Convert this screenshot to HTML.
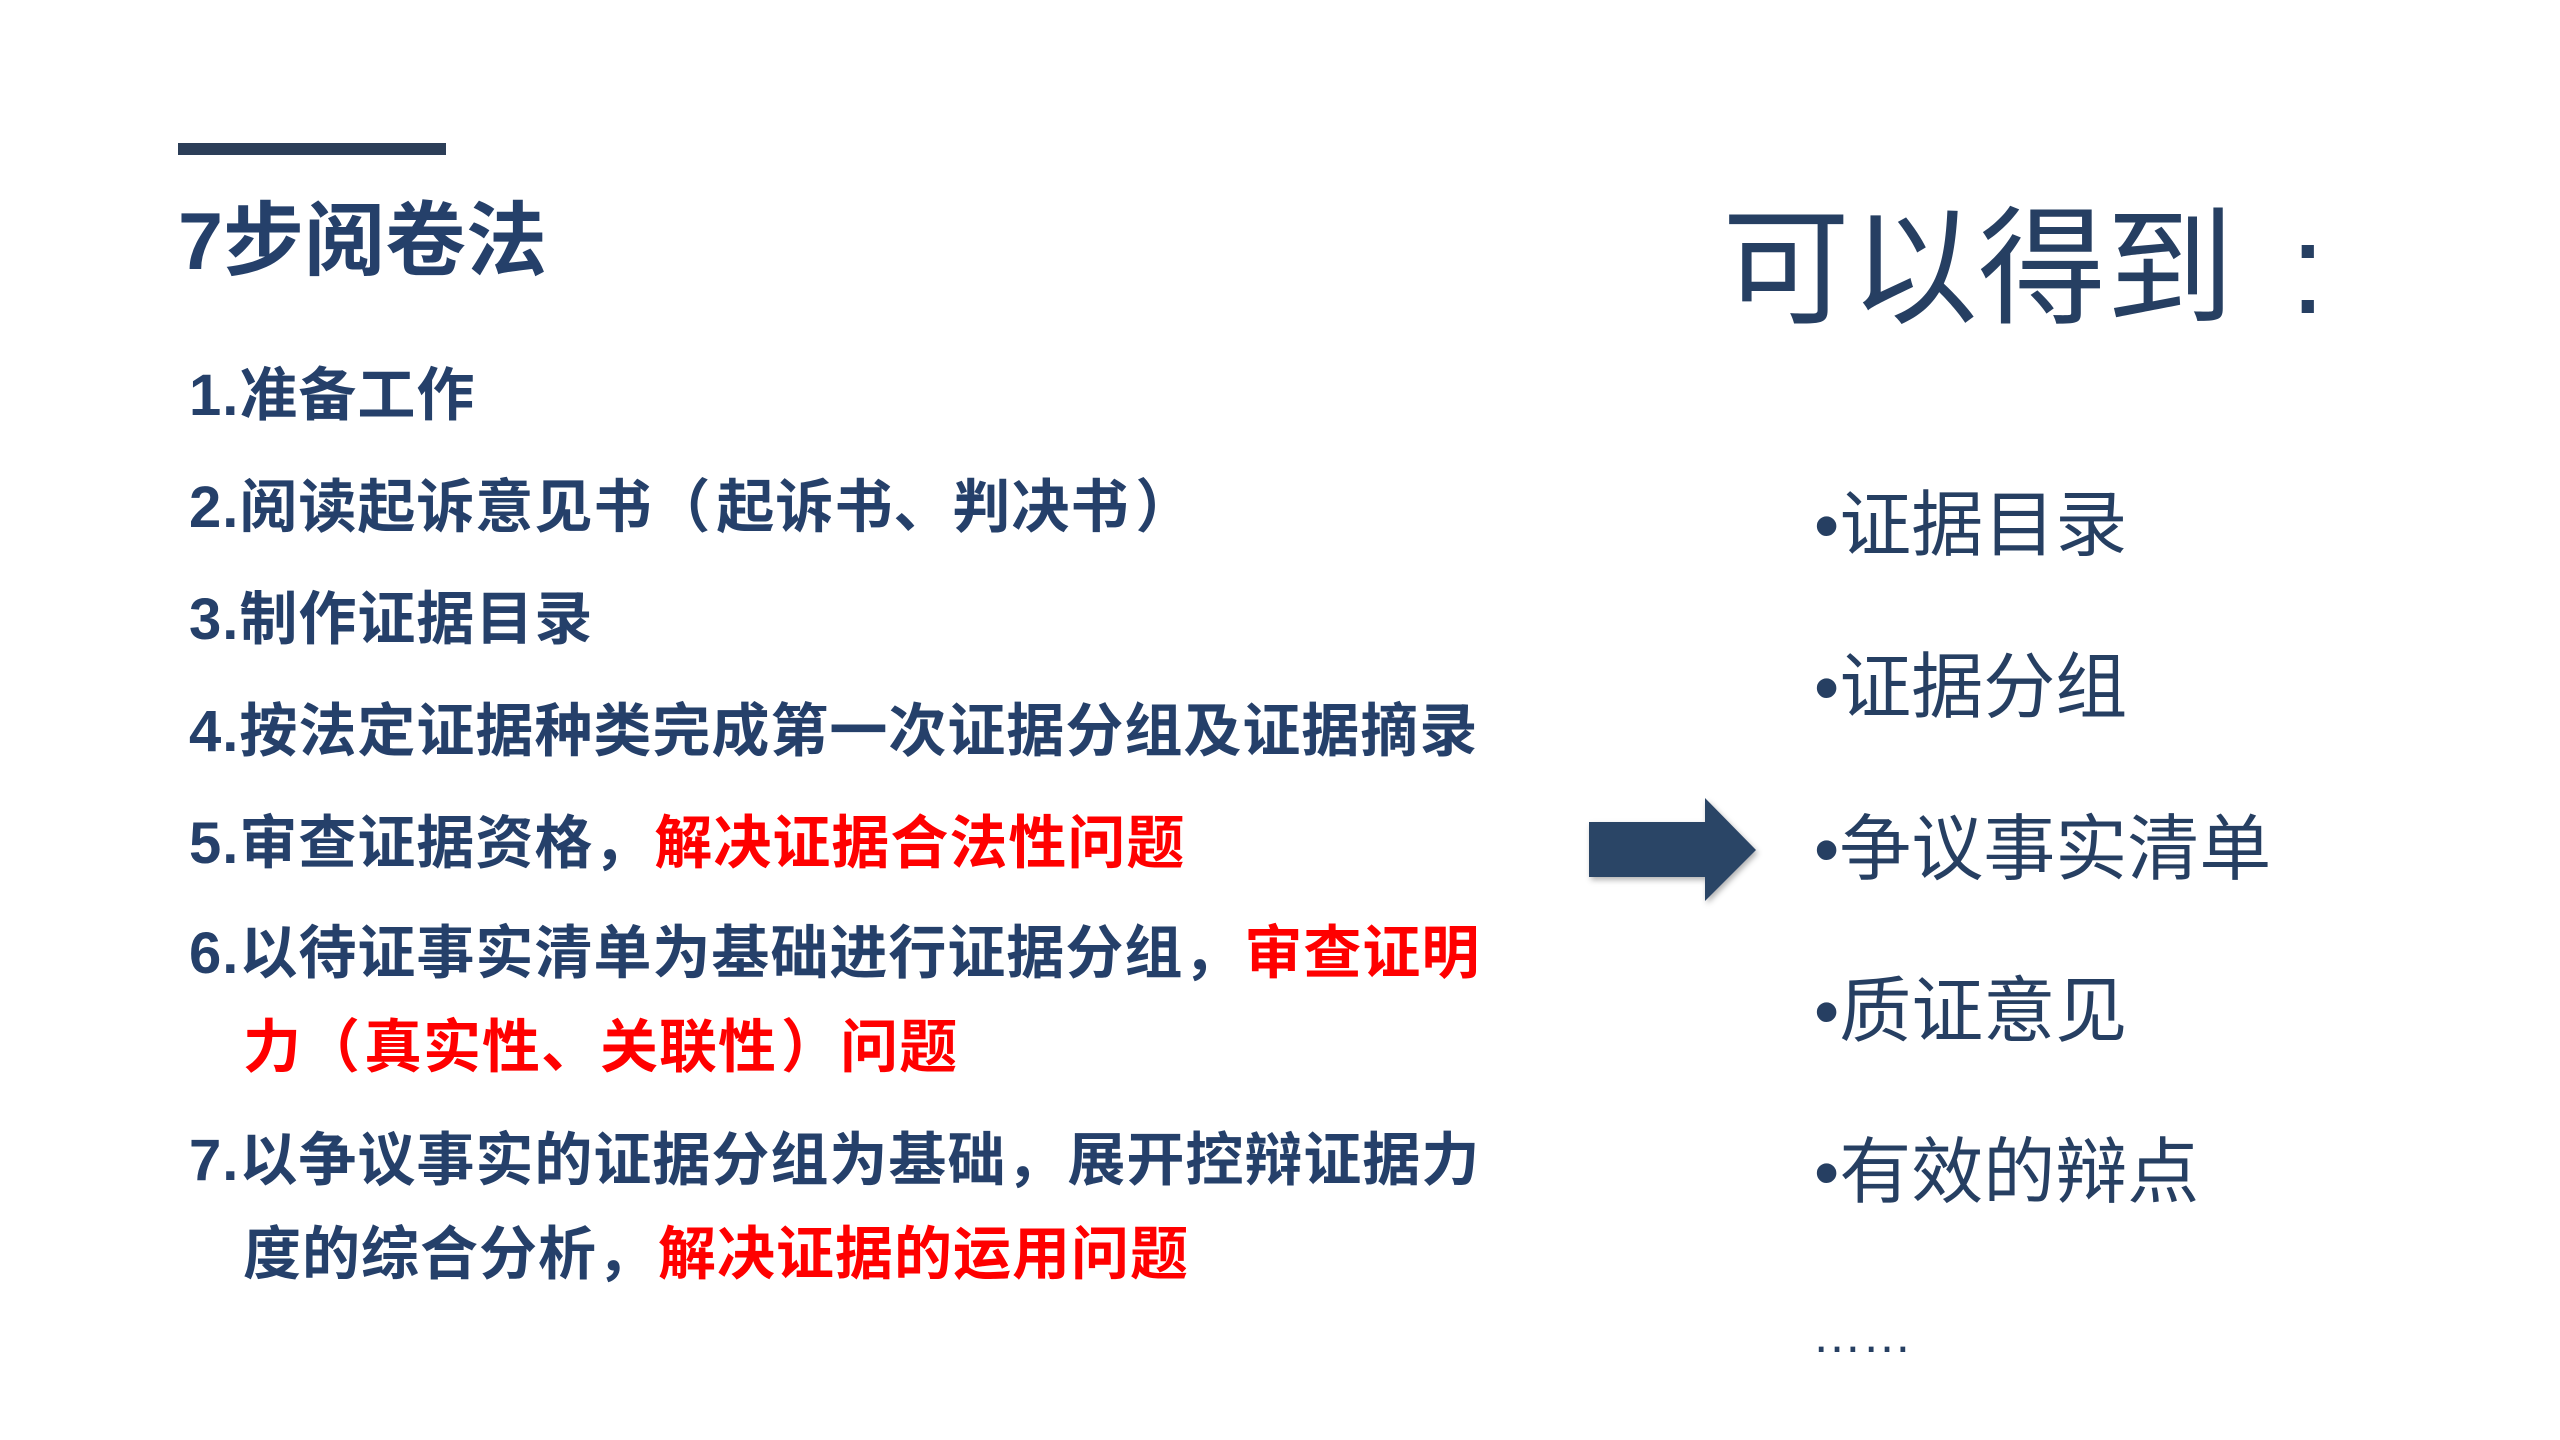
<!DOCTYPE html>
<html><head><meta charset="utf-8"><style>
body{margin:0;width:2560px;height:1440px;background:#fff;position:relative;overflow:hidden;font-family:"Liberation Sans","Noto Sans CJK SC",sans-serif;color:#25406a}
.a{position:absolute;white-space:nowrap}
.it{font-size:58px;font-weight:bold;line-height:58px;left:189px;letter-spacing:1px}
.r{color:#f00}
.rt{font-size:72px;line-height:72px;left:1814px;color:#263f62}
</style></head><body>
<div class="a" style="left:178px;top:143px;width:268px;height:12px;background:#2c3e58"></div>
<div class="a" style="left:178px;top:202px;font-size:81px;line-height:80px;font-weight:bold;letter-spacing:0px">7步阅卷法</div>
<div class="a it" style="top:367px">1.准备工作</div>
<div class="a it" style="top:479px">2.阅读起诉意见书<span style="letter-spacing:6px">（</span>起诉书、判决书<span style="margin-left:6px">）</span></div>
<div class="a it" style="top:591px">3.制作证据目录</div>
<div class="a it" style="top:703px">4.按法定证据种类完成第一次证据分组及证据摘录</div>
<div class="a it" style="top:815px">5.审查证据资格<span style="letter-spacing:3px">，</span><span class="r">解决证据合法性问题</span></div>
<div class="a it" style="top:925px">6.以待证事实清单为基础进行证据分组<span style="letter-spacing:3px">，</span><span class="r">审查证明</span></div>
<div class="a it r" style="top:1019px;left:243px">力<span style="letter-spacing:4px">（</span>真实性、关联性<span style="margin-left:4px">）</span>问题</div>
<div class="a it" style="top:1132px">7.以争议事实的证据分组为基础<span style="letter-spacing:3px">，</span>展开控辩证据力</div>
<div class="a it" style="top:1226px;left:243px">度的综合分析<span style="letter-spacing:3px">，</span><span class="r">解决证据的运用问题</span></div>
<div class="a" style="left:1722px;top:204px;font-size:128px;line-height:132px;color:#263f62">可以得到</div>
<div class="a" style="left:2290px;top:204px;font-size:128px;line-height:132px;color:#263f62">:</div>
<div class="a rt" style="top:490px">•证据目录</div>
<div class="a rt" style="top:652px">•证据分组</div>
<div class="a rt" style="top:814px">•争议事实清单</div>
<div class="a rt" style="top:976px">•质证意见</div>
<div class="a rt" style="top:1137px">•有效的辩点</div>
<div class="a" style="left:1812px;top:1310px;font-size:50px;line-height:50px;color:#263f62">……</div>
<svg class="a" style="left:0;top:0" width="2560" height="1440"><defs><filter id="s"><feDropShadow dx="2" dy="3" stdDeviation="3" flood-opacity="0.3"/></filter></defs>
<polygon points="1600,827 1716,827 1716,803 1767,855 1716,906 1716,882 1600,882" transform="translate(-11,-5)" fill="#2a4466" filter="url(#s)"/></svg>
</body></html>
